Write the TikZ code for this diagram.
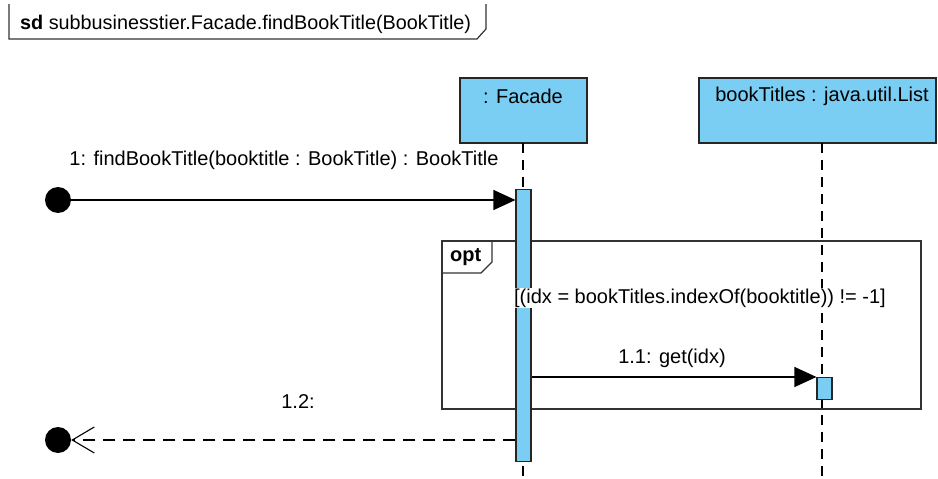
\documentclass[tikz,border=0pt]{standalone}
\usepackage{fontspec}
\setmainfont{Liberation Sans}
\usetikzlibrary{arrows.meta}
\definecolor{lifeblue}{RGB}{122,206,244}
\tikzset{
  objbox/.style={draw=black!85, line width=1.3pt, fill=lifeblue},
  actbar/.style={draw=black!85, line width=1.1pt, fill=lifeblue},
  lifeline/.style={line width=1.2pt, dash pattern=on 10pt off 7pt},
  msg/.style={line width=1.1pt, -{Triangle[length=22pt,width=20pt]}},
  retmsg/.style={line width=1.1pt, dash pattern=on 12pt off 8pt, -{Straight Barb[length=22pt,width=26pt,line width=1.1pt]}},
  endpt/.style={circle, fill=black, inner sep=0pt, minimum size=26pt},
  lbl/.style={font=\fontsize{20pt}{22pt}\selectfont, inner sep=1pt},
  frameline/.style={draw=black!80, line width=1.2pt}
}
\begin{document}
\begin{tikzpicture}[x=1pt,y=-1pt]
\useasboundingbox (0,0) rectangle (938,479);
% title frame
\draw[frameline] (9,4) -- (9,39) -- (477,39) -- (486,29) -- (486,4);
\node[lbl, anchor=west, font=\fontsize{19.8pt}{22pt}\selectfont] (title) at (19,24) {\textbf{sd} subbusinesstier.Facade.findBookTitle(BookTitle)};
% lifeline heads
\path[objbox] (460,78) rectangle (587,143);
\node[lbl] (facade) at (523,96) {: Facade};
\path[objbox] (699,78) rectangle (936,143);
\node[lbl] (list) at (822,96) {bookTitles : java.util.List};
\coordinate (fTop) at (523,143);
\coordinate (lTop) at (822,143);
% lifelines
\draw[lifeline] (fTop) -- (523,479);
\draw[lifeline] (lTop) -- (822,479);
% opt frame
\draw[frameline] (442,241) rectangle (921,409);
\draw[frameline] (442,273) -- (481,273) -- (492,262) -- (492,241);
\node[lbl, anchor=west] (opt) at (449,257) {\textbf{opt}};
% activation bars
\node[actbar, minimum width=15pt, minimum height=272pt, inner sep=0pt, anchor=north] (fbar) at (523.5,189) {};
\node[actbar, minimum width=15pt, minimum height=22pt, inner sep=0pt, anchor=north] (lbar) at (824.5,377) {};
% guard
\node[lbl, fill=white] (guard) at (700,298) {[(idx = bookTitles.indexOf(booktitle)) != -1]};
% found message
\node[endpt] (start) at (58,200) {};
\draw[msg] (start.center) -- (fbar.west |- 0,200);
\node[lbl] (m1) at (284,160) {1: findBookTitle(booktitle : BookTitle) : BookTitle};
% 1.1
\draw[msg] (fbar.east |- 0,377) -- (lbar.north west);
\node[lbl] (m11) at (672,358) {1.1: get(idx)};
% return
\node[endpt] (stop) at (58,440) {};
\draw[retmsg] (fbar.west |- 0,440) -- (stop.east);
\node[lbl] (m12) at (298,402) {1.2:};
\end{tikzpicture}
\end{document}
